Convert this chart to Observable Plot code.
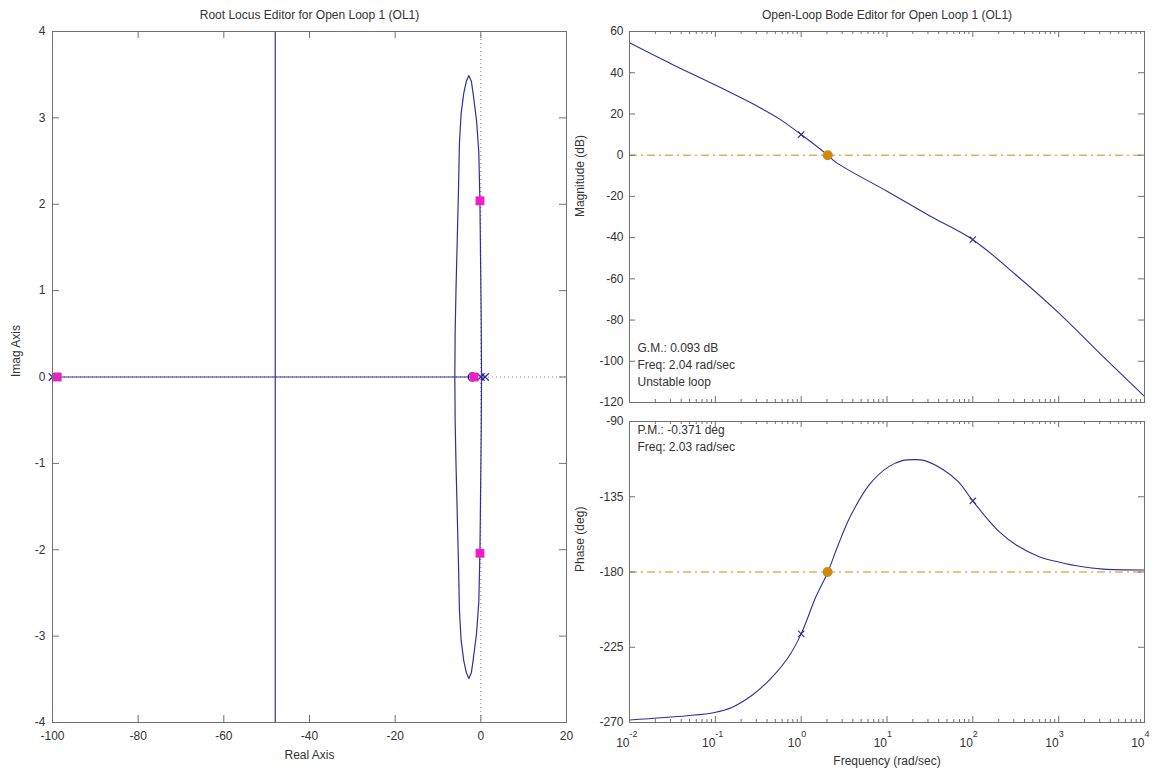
<!DOCTYPE html>
<html>
<head>
<meta charset="utf-8">
<script src="https://cdn.jsdelivr.net/npm/d3@7"></script>
<script src="https://cdn.jsdelivr.net/npm/@observablehq/plot@0.6"></script>
<style>
  html, body { margin: 0; padding: 0; background: #fff; }
  #chart { position: relative; width: 1158px; height: 769px; background: #fff; overflow: hidden; }
  #chart > svg { position: absolute; }
</style>
</head>
<body>
<div id="chart"></div>
<script>
// ---------------- data ----------------
const rootLocusTitle = "Root Locus Editor for Open Loop 1 (OL1)";
const bodeTitle = "Open-Loop Bode Editor for Open Loop 1 (OL1)";
const realAxisTicks = [-100, -80, -60, -40, -20, 0, 20];
const imagAxisTicks = [-4, -3, -2, -1, 0, 1, 2, 3, 4];

// closed root-locus loop around the zero (real, imaginary)
const loopRe = [0.16, 0.1, -0.05, -0.2, -0.47, -1.0, -1.8, -2.2, -2.8, -3.4, -4.0, -4.6, -5.0, -5.2, -5.5, -5.8, -6.0, -6.07,
                -6.0, -5.8, -5.5, -5.2, -5.0, -4.6, -4.0, -3.4, -2.8, -2.2, -1.8, -1.0, -0.47, -0.2, -0.05, 0.1, 0.16];
const loopIm = [0, 0.6, 1.3, 2.0, 2.6, 2.97, 3.28, 3.42, 3.49, 3.42, 3.28, 3.05, 2.7, 2.2, 1.6, 1.0, 0.5, 0,
                -0.5, -1.0, -1.6, -2.2, -2.7, -3.05, -3.28, -3.42, -3.49, -3.42, -3.28, -2.97, -2.6, -2.0, -1.3, -0.6, 0];
const realLocusRe = [-100, -1.6];
const realLocusIm = [0, 0];
const rightLocusRe = [0, 1];
const rightLocusIm = [0, 0];
const asymptoteRe = [-48];
const olPoleRe = [-100, 0, 1];
const olPoleIm = [0, 0, 0];
const olZeroRe = [-2];
const olZeroIm = [0];
const clPoleRe = [-98.9, -0.2, -0.2, -1.6];
const clPoleIm = [0, 2.04, -2.04, 0];

// Bode magnitude
const magFreq = [0.01, 0.0316, 0.1, 0.316, 0.562, 1, 2.04, 2.57, 10, 31.6, 100, 316, 1000, 3162, 10000];
const magDb   = [54.5, 44, 34, 23.5, 17.5, 10, 0, -3.6, -17.5, -29.5, -41, -58, -76.5, -97, -117];
// Bode phase
const phaseFreq = [0.01, 0.0468, 0.098, 0.155, 0.263, 0.437, 0.708, 1, 1.48, 2.03, 2.69, 3.72, 6.17, 10.5, 15.1, 20.9, 27.5, 45.7, 67.6, 100, 141, 204, 324, 603, 1000, 1740, 3311, 10000];
const phaseDeg  = [-268.5, -266, -264, -261, -254, -244, -231, -217, -195, -180.4, -164, -147, -128, -117, -113.4, -112.8, -113.4, -119, -126, -137.5, -147, -156, -164, -171, -174, -176.6, -178.3, -178.8];

const magTicks = [60, 40, 20, 0, -20, -40, -60, -80, -100, -120];
const phaseTicks = [-90, -135, -180, -225, -270];
const decadeExponents = [-2, -1, 0, 1, 2, 3, 4];
const minorMultipliers = [2, 3, 4, 5, 6, 7, 8, 9];
const markerFreq = [1, 100];
const markerMagDb = [10, -41];
const markerPhaseDeg = [-217, -137.5];
const gmFreq = [2.04], gmLevel = [0];
const pmFreq = [2.03], pmLevel = [-180];
const gmText = ["G.M.: 0.093 dB", "Freq: 2.04 rad/sec", "Unstable loop"];
const pmText = ["P.M.: -0.371 deg", "Freq: 2.03 rad/sec"];

// ---------------- styling ----------------
const blue = "#2f2f96", magenta = "#f01ec8", orange = "#cf8a12", frameColor = "#707070", dotted = "#8a8a8a";
const style = {fontFamily: "'Liberation Sans', Arial, Helvetica, sans-serif", fontSize: "12px", color: "#333", background: "transparent", overflow: "visible"};
const fmt = d => String(d);
const chart = document.getElementById("chart");
function place(el, left, top) { el.style.left = left + "px"; el.style.top = top + "px"; chart.appendChild(el); }

const rows = (xs, ys) => xs.map((x, i) => ({x, y: ys[i]}));
const decades = decadeExponents.map(e => 10 ** e);
const minorFreqs = decadeExponents.slice(0, -1).flatMap(e => minorMultipliers.map(m => m * 10 ** e));

// ---------------- root locus ----------------
const A = {w: 580, h: 769, ml: 52, mr: 14, mt: 31, mb: 47};
const aPW = A.w - A.ml - A.mr, aPH = A.h - A.mt - A.mb;
const rl = Plot.plot({
  width: A.w, height: A.h, marginLeft: A.ml, marginRight: A.mr, marginTop: A.mt, marginBottom: A.mb,
  x: {domain: [-100, 20], axis: null}, y: {domain: [-4, 4], axis: null},
  style,
  marks: [
    Plot.ruleX([0], {stroke: dotted, strokeDasharray: "1,3"}),
    Plot.ruleY([0], {stroke: dotted, strokeDasharray: "1,3"}),
    Plot.ruleX(asymptoteRe, {x: d => d, stroke: blue, strokeWidth: 1.2}),
    Plot.line(rows(realLocusRe, realLocusIm), {x: "x", y: "y", stroke: blue, strokeWidth: 1.2}),
    Plot.line(rows(rightLocusRe, rightLocusIm), {x: "x", y: "y", stroke: blue, strokeWidth: 1.2}),
    Plot.line(rows(loopRe, loopIm), {x: "x", y: "y", stroke: blue, strokeWidth: 1.2}),
    Plot.dot(rows(olZeroRe, olZeroIm), {x: "x", y: "y", r: 4, stroke: "#1b1b50", strokeWidth: 1.3, fill: "none"}),
    Plot.dot(rows(olPoleRe, olPoleIm), {x: "x", y: "y", symbol: "times", r: 3.5, stroke: blue, strokeWidth: 1.2}),
    Plot.dot(rows(clPoleRe, clPoleIm), {x: "x", y: "y", symbol: "square", r: 5, fill: magenta}),
    Plot.tickX(realAxisTicks, {x: d => d, insetTop: aPH - 7, stroke: frameColor}),
    Plot.tickX(realAxisTicks, {x: d => d, insetBottom: aPH - 7, stroke: frameColor}),
    Plot.tickY(imagAxisTicks, {y: d => d, insetRight: aPW - 7, stroke: frameColor}),
    Plot.tickY(imagAxisTicks, {y: d => d, insetLeft: aPW - 7, stroke: frameColor}),
    Plot.frame({stroke: frameColor}),
    Plot.axisX({ticks: realAxisTicks, tickFormat: fmt, tickSize: 0, tickPadding: 9, label: null}),
    Plot.axisY({ticks: imagAxisTicks, tickFormat: fmt, tickSize: 0, tickPadding: 7, label: null}),
    Plot.text([rootLocusTitle], {text: d => d, frameAnchor: "top", lineAnchor: "middle", dy: -16}),
    Plot.text(["Real Axis"], {text: d => d, frameAnchor: "bottom", lineAnchor: "middle", dy: 33}),
    Plot.text(["Imag Axis"], {text: d => d, frameAnchor: "left", lineAnchor: "middle", dx: -36, rotate: -90})
  ]
});
place(rl, 0, 0);

// ---------------- Bode helpers ----------------
function freqTicks(pH, major, minor) {
  return [
    Plot.tickX(decades, {x: d => d, insetTop: pH - major, stroke: frameColor}),
    Plot.tickX(decades, {x: d => d, insetBottom: pH - major, stroke: frameColor}),
    Plot.tickX(minorFreqs, {x: d => d, insetTop: pH - minor, stroke: frameColor}),
    Plot.tickX(minorFreqs, {x: d => d, insetBottom: pH - minor, stroke: frameColor})
  ];
}
function valueTicks(ticks, pW, len) {
  return [
    Plot.tickY(ticks, {y: d => d, insetRight: pW - len, stroke: frameColor}),
    Plot.tickY(ticks, {y: d => d, insetLeft: pW - len, stroke: frameColor})
  ];
}

// ---------------- Bode magnitude ----------------
const B = {w: 598, h: 410, ml: 69, mr: 14, mt: 31, mb: 8};
const bPW = B.w - B.ml - B.mr, bPH = B.h - B.mt - B.mb;
const mag = Plot.plot({
  width: B.w, height: B.h, marginLeft: B.ml, marginRight: B.mr, marginTop: B.mt, marginBottom: B.mb,
  x: {type: "log", domain: [0.01, 10000], axis: null}, y: {domain: [-120, 60], axis: null},
  style,
  marks: [
    Plot.ruleY(gmLevel, {y: d => d, stroke: orange, strokeDasharray: "8,4,2,4"}),
    Plot.line(rows(magFreq, magDb), {x: "x", y: "y", stroke: blue, strokeWidth: 1.1, curve: "catmull-rom"}),
    Plot.dot(rows(markerFreq, markerMagDb), {x: "x", y: "y", symbol: "times", r: 3, stroke: blue, strokeWidth: 1.1}),
    Plot.dot(rows(gmFreq, gmLevel), {x: "x", y: "y", r: 5, fill: orange}),
    ...freqTicks(bPH, 6, 3),
    ...valueTicks(magTicks, bPW, 6),
    Plot.frame({stroke: frameColor}),
    Plot.axisY({ticks: magTicks, tickFormat: fmt, tickSize: 0, tickPadding: 6, label: null}),
    Plot.text([bodeTitle], {text: d => d, frameAnchor: "top", lineAnchor: "middle", dy: -16}),
    Plot.text(["Magnitude (dB)"], {text: d => d, frameAnchor: "left", lineAnchor: "middle", dx: -49, rotate: -90}),
    Plot.text([gmText.join("\n")], {text: d => d, frameAnchor: "bottom-left", textAnchor: "start", lineAnchor: "middle", dx: 8, dy: -39, lineHeight: 1.417})
  ]
});
place(mag, 560, 0);

// ---------------- Bode phase ----------------
const C = {w: 598, h: 359, ml: 69, mr: 14, mt: 11, mb: 47};
const cPW = C.w - C.ml - C.mr, cPH = C.h - C.mt - C.mb;
const phase = Plot.plot({
  width: C.w, height: C.h, marginLeft: C.ml, marginRight: C.mr, marginTop: C.mt, marginBottom: C.mb,
  x: {type: "log", domain: [0.01, 10000], axis: null}, y: {domain: [-270, -90], axis: null},
  style,
  marks: [
    Plot.ruleY(pmLevel, {y: d => d, stroke: orange, strokeDasharray: "8,4,2,4"}),
    Plot.line(rows(phaseFreq, phaseDeg), {x: "x", y: "y", stroke: blue, strokeWidth: 1.1, curve: "catmull-rom"}),
    Plot.dot(rows(markerFreq, markerPhaseDeg), {x: "x", y: "y", symbol: "times", r: 3, stroke: blue, strokeWidth: 1.1}),
    Plot.dot(rows(pmFreq, pmLevel), {x: "x", y: "y", r: 5, fill: orange}),
    ...freqTicks(cPH, 6, 3),
    ...valueTicks(phaseTicks, cPW, 6),
    Plot.frame({stroke: frameColor}),
    Plot.axisY({ticks: phaseTicks, tickFormat: fmt, tickSize: 0, tickPadding: 6, label: null}),
    Plot.text(decades, {x: d => d, frameAnchor: "bottom", lineAnchor: "middle", text: () => "10", textAnchor: "end", dy: 21}),
    Plot.text(decadeExponents, {x: e => 10 ** e, frameAnchor: "bottom", lineAnchor: "middle", text: e => String(e), textAnchor: "start", fontSize: 9, dy: 12}),
    Plot.text(["Frequency (rad/sec)"], {text: d => d, frameAnchor: "bottom", lineAnchor: "middle", dy: 39}),
    Plot.text(["Phase (deg)"], {text: d => d, frameAnchor: "left", lineAnchor: "middle", dx: -49, rotate: -90}),
    Plot.text([pmText.join("\n")], {text: d => d, frameAnchor: "top-left", textAnchor: "start", lineAnchor: "middle", dx: 8, dy: 16, lineHeight: 1.417})
  ]
});
place(phase, 560, 410);
</script>
</body>
</html>
